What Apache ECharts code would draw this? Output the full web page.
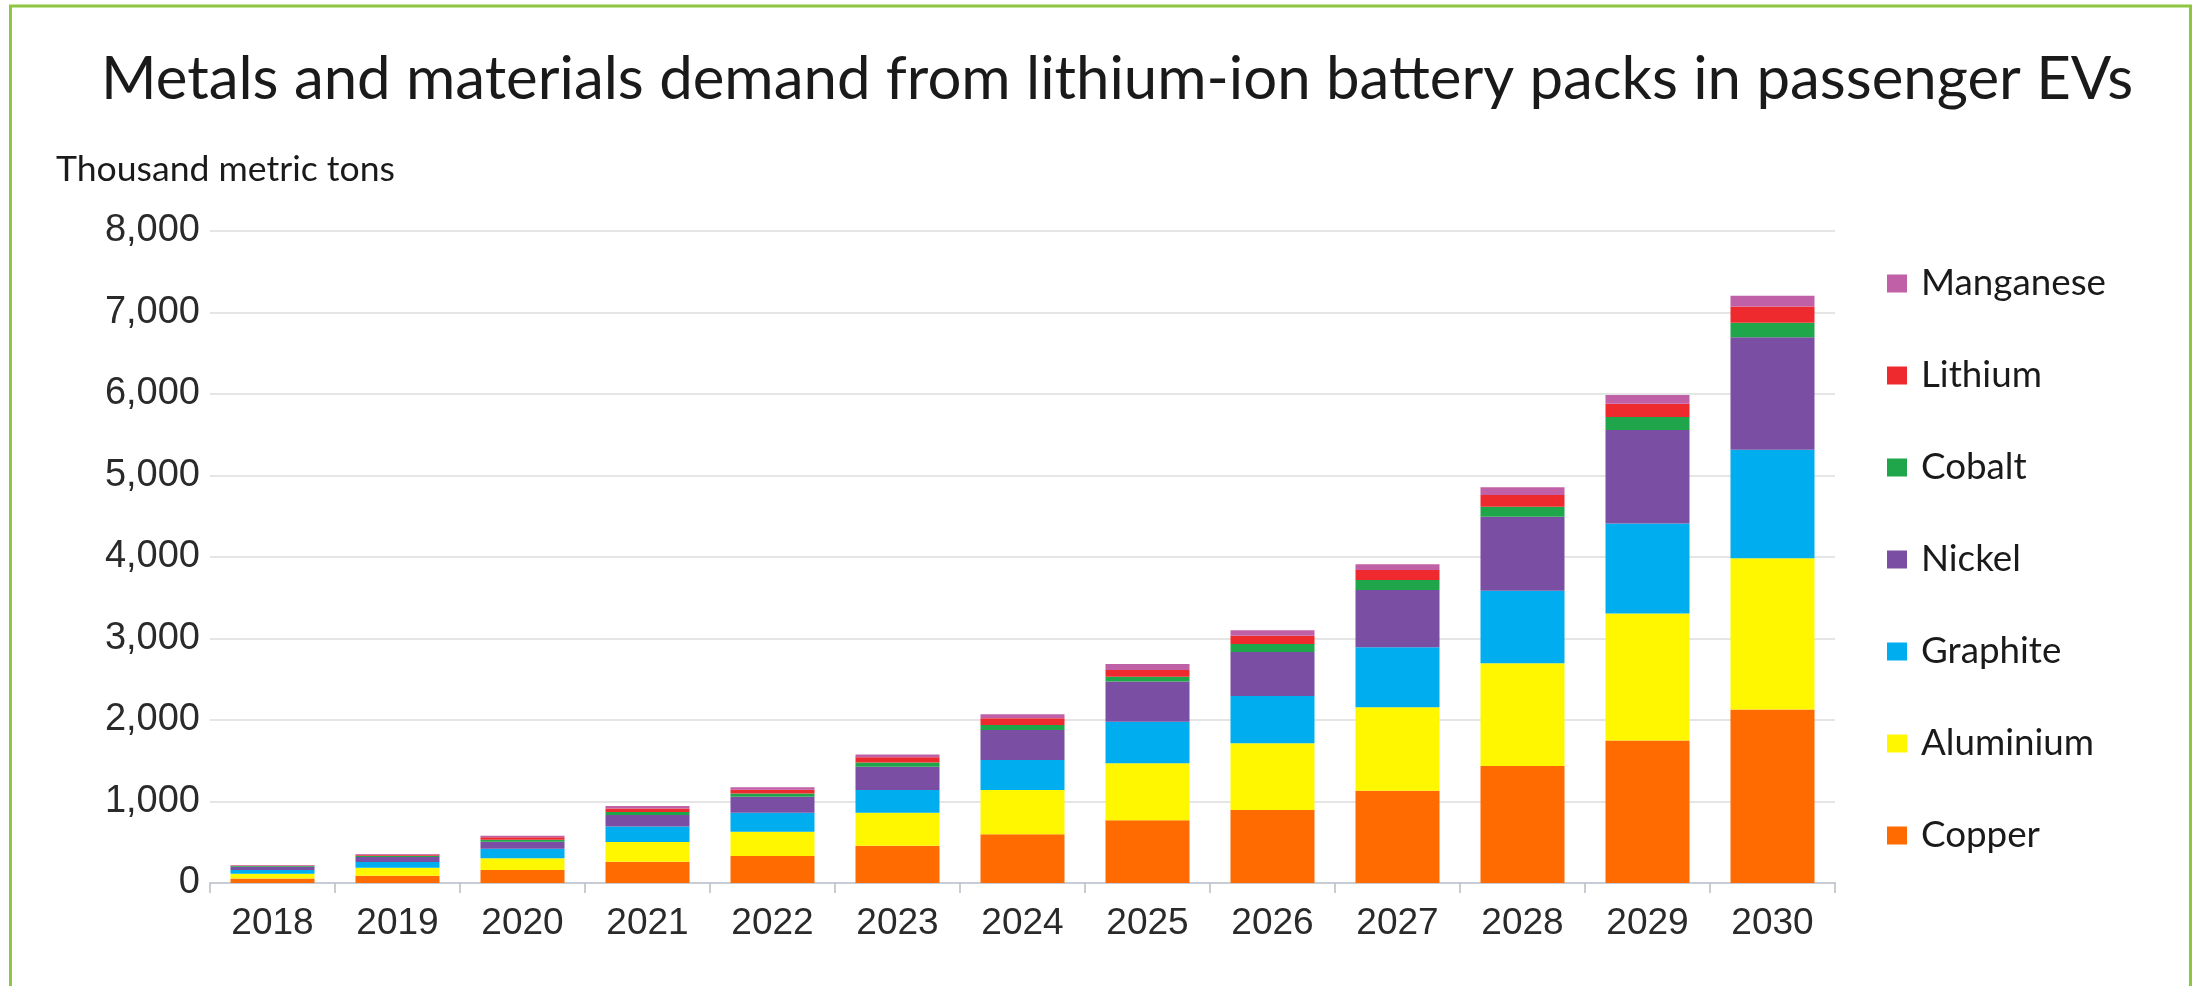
<!DOCTYPE html>
<html>
<head>
<meta charset="utf-8">
<script src="https://cdn.jsdelivr.net/npm/echarts@6/dist/echarts.min.js"></script>
<style>
html,body{margin:0;padding:0;background:#fff;}
#chart{width:2196px;height:986px;}
</style>
</head>
<body>
<div id="chart"></div>
<script>
const categories = ['2018','2019','2020','2021','2022','2023','2024','2025','2026','2027','2028','2029','2030'];
const copper    = [55, 88, 160, 262, 331, 458, 597, 770, 896, 1133, 1436, 1749, 2128];
const aluminium = [60, 100, 143, 240, 299, 405, 544, 700, 818, 1022, 1260, 1558, 1857];
const graphite  = [45, 70, 118, 190, 233, 278, 368, 510, 580, 737, 890, 1105, 1330];
const nickel    = [40, 62, 85, 143, 196, 286, 368, 491, 540, 703, 908, 1146, 1380];
const cobalt    = [8, 14, 25, 35, 40, 50, 62, 61, 100, 123, 123, 161, 180];
const lithium   = [8, 14, 30, 45, 45, 65, 82, 82, 100, 122, 144, 160, 200];
const manganese = [4, 8, 20, 30, 30, 35, 49, 74, 66, 70, 94, 110, 130];
const seriesNames = ['Copper','Aluminium','Graphite','Nickel','Cobalt','Lithium','Manganese'];
const seriesData = [copper, aluminium, graphite, nickel, cobalt, lithium, manganese];
const seriesColors = ['#FF6B00','#FFF700','#00AEEF','#7A4FA3','#1FA64B','#EE2A2E','#C061A8'];
const titleText = 'Metals and materials demand from lithium-ion battery packs in passenger EVs';
const subtitleText = 'Thousand metric tons';

function fitSize(text, family, target){
  const c = document.createElement('canvas').getContext('2d');
  c.font = '100px ' + family;
  return 100 * target / c.measureText(text).width;
}
const titleSize = fitSize(titleText, 'Lato', 2033);
const subSize = fitSize(subtitleText, 'Lato', 339);
const legendSize = fitSize('Manganese', 'Lato', 185);

const chart = echarts.init(document.getElementById('chart'), null, {renderer:'canvas'});
const option = {
  animation:false,
  backgroundColor:'#ffffff',
  graphic:[
    {type:'rect', shape:{x:10.5, y:6, width:2180, height:1100}, style:{fill:'none', stroke:'#8DC63F', lineWidth:3}, silent:true},
    {type:'text', x:101, y:80, style:{text:titleText, fontFamily:'Lato', fontSize:titleSize, fill:'#1a1a1a', textVerticalAlign:'middle'}},
    {type:'text', x:56, y:170, style:{text:subtitleText, fontFamily:'Lato', fontSize:subSize, fill:'#1a1a1a', textVerticalAlign:'middle'}}
  ],
  legend:{
    orient:'vertical',
    left:1882, top:260,
    itemWidth:20, itemHeight:18,
    itemGap:55,
    icon:'rect',
    data:seriesNames.slice().reverse(),
    textStyle:{fontFamily:'Lato', fontSize:legendSize, color:'#1a1a1a', lineHeight:34, padding:[0,0,0,9]}
  },
  grid:{left:210, right:361, top:231, bottom:103},
  xAxis:{
    type:'category',
    data:categories,
    axisLine:{lineStyle:{color:'#c8ccd4', width:2}},
    axisTick:{show:true, length:10, lineStyle:{color:'#b8bcc4', width:1.5}},
    axisLabel:{fontFamily:'Liberation Sans', fontSize:37, color:'#2a2a2a', margin:22}
  },
  yAxis:{
    type:'value', min:0, max:8000, interval:1000,
    axisLine:{show:false}, axisTick:{show:false},
    splitLine:{lineStyle:{color:'#dcdcdc', width:1.5}},
    axisLabel:{fontFamily:'Liberation Sans', fontSize:38, color:'#2a2a2a', margin:10,
      formatter:v => v.toLocaleString('en-US')}
  },
  series: seriesNames.map((n,i)=>({
    name:n, type:'bar', stack:'total', barWidth:84,
    data:seriesData[i],
    itemStyle:{color:seriesColors[i]}
  }))
};
chart.setOption(option);
</script>
</body>
</html>
